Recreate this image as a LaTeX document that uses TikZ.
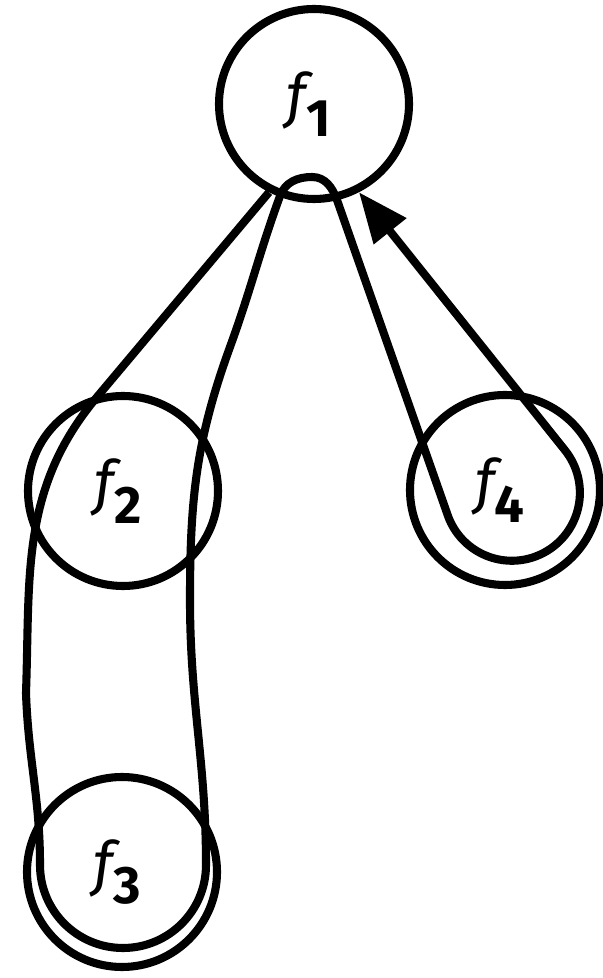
\documentclass[tikz,border=0pt]{standalone}
\usepackage{fontspec}
\setmainfont{Fira Sans}
\usetikzlibrary{arrows.meta}
\newcommand{\flab}[1]{{\fontsize{17}{17}\selectfont\itshape f}\raisebox{-5.5pt}{\fontsize{15}{15}\selectfont\bfseries #1}\kern0.1cm}

\begin{document}
\begin{tikzpicture}[
    fnode/.style={circle, draw, line width=2.3pt, minimum size=1.9cm, inner sep=0pt},
    walk/.style={line width=2.3pt, line join=round, -{Triangle[length=5mm,width=4mm]}}]
    \useasboundingbox (0,0) rectangle (6.03,9.78);
    % the four states
    \node[fnode] (f1) at (3.14,8.74) {\flab{1}};
    \node[fnode] (f2) at (1.23,4.87) {\flab{2}};
    \node[fnode] (f3) at (1.22,1.06) {\flab{3}};
    \node[fnode] (f4) at (5.05,4.88) {\flab{4}};
    % the walk f1 - f2 - f3 - f2 - f1 - f4 - f1
    \draw[walk] (f1.243) -- (0.97,5.81)
        to[out=230,in=88] (0.26,2.85)
        to[out=-88,in=90] (0.40,1.13)
        arc[start angle=180,end angle=360,radius=0.83]
        to[out=90,in=-90] (1.90,3.78)
        to[out=90,in=250] (2.30,6.31)
        to[out=70,in=250] (2.80,7.82)
        to[out=70,in=180] (3.12,8.01)
        to[out=0,in=110] (3.37,7.78)
        -- (4.48,4.62)
        arc[start angle=200,end angle=398.7,radius=0.68]
        -- (f1.297);
\end{tikzpicture}
\end{document}
